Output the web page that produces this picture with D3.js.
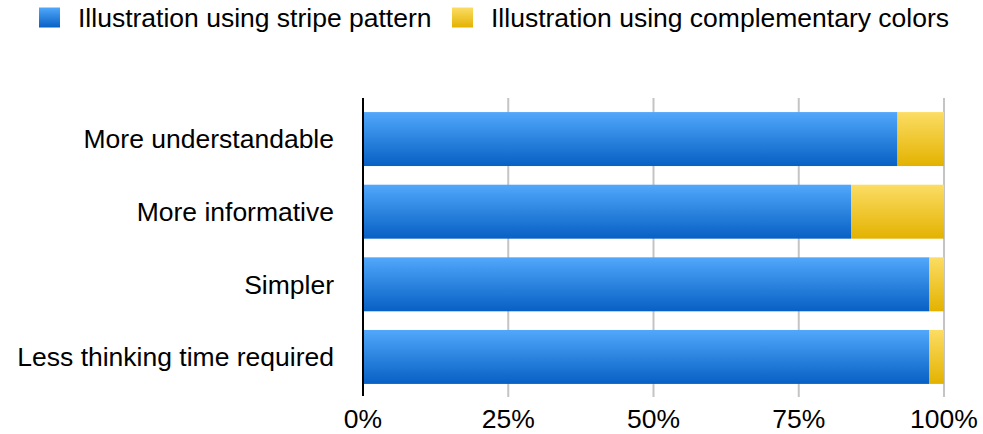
<!DOCTYPE html>
<html>
<head>
<meta charset="utf-8">
<script src="https://cdn.jsdelivr.net/npm/d3@7"></script>
<style>
  body { margin: 0; background: #fff; }
  svg { display: block; font-family: "Liberation Sans", Arial, Helvetica, sans-serif; }
</style>
</head>
<body>
<div class="container"></div>
<script>
// data
const categories = ["More understandable", "More informative", "Simpler", "Less thinking time required"];
const stripe = [92, 84, 97.5, 97.5];
const complementary = [8, 16, 2.5, 2.5];
const seriesNames = ["Illustration using stripe pattern", "Illustration using complementary colors"];
const tickValues = [0, 25, 50, 75, 100];

const w = 983, h = 434;
const plotLeft = 363, plotRight = 944, plotTop = 98, plotBottom = 396;
const fontSize = 26.5;

const svg = d3.select(".container").append("svg")
  .attr("width", w)
  .attr("height", h);

// gradients
const defs = svg.append("defs");
const grads = [
  { id: "gBlue", c0: "#51a8fb", c1: "#0760c4" },
  { id: "gYellow", c0: "#fcdd64", c1: "#e3b200" }
];
grads.forEach(g => {
  const lg = defs.append("linearGradient")
    .attr("id", g.id)
    .attr("x1", 0).attr("y1", 0).attr("x2", 0).attr("y2", 1);
  lg.append("stop").attr("offset", "0%").attr("stop-color", g.c0);
  lg.append("stop").attr("offset", "100%").attr("stop-color", g.c1);
});
const fills = ["url(#gBlue)", "url(#gYellow)"];

// scales
const xScale = d3.scaleLinear().domain([0, 100]).range([plotLeft, plotRight]);
const yScale = d3.scaleBand().domain(categories).range([plotTop + 1, plotBottom + 1])
  .paddingInner(0.257).paddingOuter(0.18);

// gridlines
svg.append("g")
  .selectAll("line")
  .data(tickValues.filter(d => d > 0))
  .enter()
  .append("line")
  .attr("x1", d => xScale(d))
  .attr("x2", d => xScale(d))
  .attr("y1", plotTop)
  .attr("y2", plotBottom + 1)
  .attr("stroke", "#c4c4c4")
  .attr("stroke-width", 2);

// stacked bars
const rows = categories.map((c, i) => ({ cat: c, vals: [stripe[i], complementary[i]] }));
const stack = d3.stack().keys([0, 1]).value((d, k) => d.vals[k]);
const layers = stack(rows);

svg.append("g")
  .selectAll("g")
  .data(layers)
  .enter()
  .append("g")
  .attr("fill", (d, i) => fills[i])
  .selectAll("rect")
  .data(d => d)
  .enter()
  .append("rect")
  .attr("x", d => xScale(d[0]))
  .attr("width", d => xScale(d[1]) - xScale(d[0]))
  .attr("y", d => yScale(d.data.cat))
  .attr("height", yScale.bandwidth());

// axis line
svg.append("line")
  .attr("x1", plotLeft).attr("x2", plotLeft)
  .attr("y1", plotTop).attr("y2", plotBottom)
  .attr("stroke", "#000")
  .attr("stroke-width", 2);

// category labels
svg.append("g")
  .selectAll("text")
  .data(categories)
  .enter()
  .append("text")
  .attr("x", 334)
  .attr("y", d => yScale(d) + yScale.bandwidth() / 2)
  .attr("dy", "0.35em")
  .style("font-size", fontSize + "px")
  .style("text-anchor", "end")
  .attr("fill", "#000")
  .text(d => d);

// x tick labels
svg.append("g")
  .selectAll("text")
  .data(tickValues)
  .enter()
  .append("text")
  .attr("x", d => xScale(d))
  .attr("y", 428)
  .style("font-size", fontSize + "px")
  .style("text-anchor", "middle")
  .attr("fill", "#000")
  .text(d => d + "%");

// legend
const legendX = [39, 452];
const legend = svg.append("g").attr("id", "legend");
const item = legend.selectAll("g")
  .data(seriesNames)
  .enter()
  .append("g");
item.append("rect")
  .attr("x", (d, i) => legendX[i])
  .attr("y", 7.5)
  .attr("width", 21)
  .attr("height", 20)
  .attr("fill", (d, i) => fills[i]);
item.append("text")
  .attr("x", (d, i) => legendX[i] + 39)
  .attr("y", 27)
  .style("font-size", fontSize + "px")
  .attr("fill", "#000")
  .text(d => d);
</script>
</body>
</html>
